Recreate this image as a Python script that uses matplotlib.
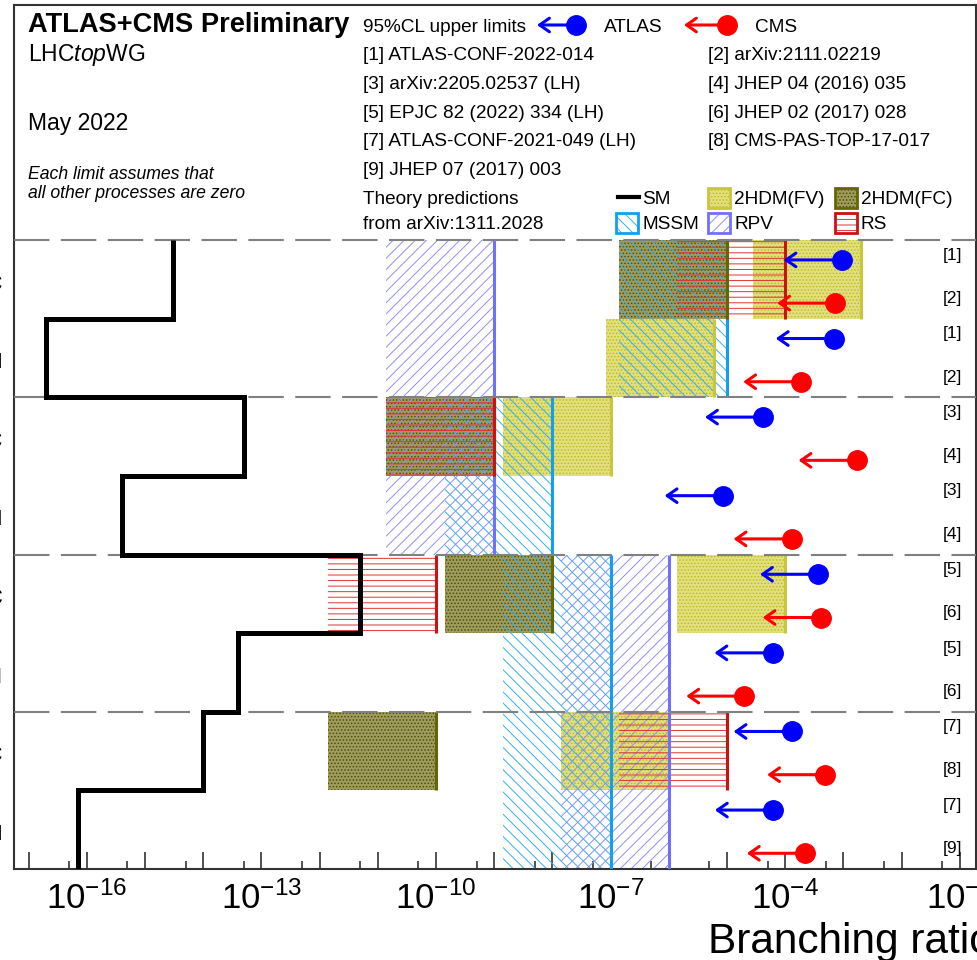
import numpy as np
import matplotlib
matplotlib.use('Agg')
import matplotlib.pyplot as plt
import matplotlib.transforms as mtransforms
from matplotlib.patches import Rectangle
from matplotlib.lines import Line2D
from matplotlib.ticker import FixedLocator, FuncFormatter, NullFormatter

plt.rcParams['font.family'] = ['Liberation Sans', 'DejaVu Sans']
plt.rcParams['mathtext.fontset'] = 'custom'
plt.rcParams['mathtext.rm'] = 'Liberation Sans'
plt.rcParams['mathtext.it'] = 'Liberation Sans:italic'
plt.rcParams['mathtext.bf'] = 'Liberation Sans:bold'
plt.rcParams['hatch.linewidth'] = 0.7

# channels, bottom to top: each has a u row (lower) and a c row (upper)
channels = ['Z', 'g', 'γ', 'H']

# SM predictions
sm_u = [7e-17, 4e-14, 4e-16, 2e-17]
sm_c = [1e-14, 5e-12, 5e-14, 3e-15]

# BSM predictions (arXiv:1311.2028), nan = not shown
fv_u = [np.nan, np.nan, np.nan, 6e-6]
fv_c = [1e-6, 1e-4, 1e-7, 2e-3]
fc_c = [1e-10, 1e-8, 1e-9, 1e-5]
mssm_uc = [1e-7, 1e-7, 1e-8, 1e-5]
rpv_uc = [1e-6, 1e-6, 1e-9, 1e-9]
rs_c = [1e-5, 1e-10, 1e-9, 1e-4]

# 95% CL upper limits
atlas_u = [6.2e-5, 6.1e-5, 8.5e-6, 6.9e-4]
atlas_c = [1.3e-4, 3.7e-4, 4.2e-5, 9.4e-4]
cms_u = [2.2e-4, 2.0e-5, 1.3e-4, 1.9e-4]
cms_c = [4.9e-4, 4.1e-4, 1.7e-3, 7.3e-4]
atlas_ref = ['[7]', '[5]', '[3]', '[1]']
cms_ref_u = ['[9]', '[6]', '[4]', '[2]']
cms_ref_c = ['[8]', '[6]', '[4]', '[2]']

references = ['[1] ATLAS-CONF-2022-014', '[2] arXiv:2111.02219',
              '[3] arXiv:2205.02537 (LH)', '[4] JHEP 04 (2016) 035',
              '[5] EPJC 82 (2022) 334 (LH)', '[6] JHEP 02 (2017) 028',
              '[7] ATLAS-CONF-2021-049 (LH)', '[8] CMS-PAS-TOP-17-017',
              '[9] JHEP 07 (2017) 003']

C_ATLAS, C_CMS = '#0000ff', '#ff0000'
styles = {
    'FV': dict(face='#e2e07e', hatch='.....', hc='#bdbb22', line='#c8c63a'),
    'FC': dict(face='#9e9c5e', hatch='.....', hc='#4f4e00', line='#666600'),
    'MSSM': dict(face='none', hatch='\\\\\\', hc='#35aef0', line='#11a0ee'),
    'RPV': dict(face='none', hatch='///', hc='#8f8ff5', line='#7070ff'),
    'RS': dict(face='none', hatch='---', hc='#dd3333', line='#cc1111'),
}
BOX_DEC = 1.85

W, H = 977, 960
fig = plt.figure(figsize=(W / 100, H / 100), dpi=100)
ax = fig.add_axes([14 / W, 1 - 869 / H, (976 - 14) / W, (869 - 4.5) / H])
ax.set_xscale('log')


def box(val, y0, y1, st, z):
    if np.isnan(val):
        return
    s = styles[st]
    lo = val / 10 ** BOX_DEC
    ax.add_patch(Rectangle((lo, y0), val - lo, y1 - y0, facecolor=s['face'],
                           edgecolor=s['hc'], hatch=s['hatch'], lw=0, zorder=z))


def edge(val, y0, y1, st, z):
    if np.isnan(val):
        return
    ax.vlines(val, y0, y1, color=styles[st]['line'], lw=2.2, zorder=z)


for i in range(4):
    u0, c0 = 2 * i, 2 * i + 1
    box(fv_u[i], u0, u0 + 1, 'FV', 1)
    box(fv_c[i], c0, c0 + 1, 'FV', 1)
    box(fc_c[i], c0, c0 + 1, 'FC', 1)
    box(mssm_uc[i], u0, c0 + 1, 'MSSM', 2)
    box(rpv_uc[i], u0, c0 + 1, 'RPV', 2)
    box(rs_c[i], c0, c0 + 1, 'RS', 3)
    edge(fv_u[i], u0, u0 + 1, 'FV', 4)
    edge(fv_c[i], c0, c0 + 1, 'FV', 4)
    edge(mssm_uc[i], u0, c0 + 1, 'MSSM', 5)
    edge(rpv_uc[i], u0, c0 + 1, 'RPV', 6)
    edge(fc_c[i], c0, c0 + 1, 'FC', 7)
    edge(rs_c[i], c0, c0 + 1, 'RS', 8)

# separators
for yy in [2, 4, 6, 8]:
    ax.axhline(yy, color='#808080', lw=1.5, ls=(0, (17, 5.5)), zorder=9)

# SM staircase
sm_rows = []
for i in range(4):
    sm_rows += [sm_u[i], sm_c[i]]
ax.stairs(sm_rows, np.arange(9), orientation='horizontal', baseline=None,
          color='black', lw=3.6, zorder=10)

# experimental limits
lab_tr = mtransforms.blended_transform_factory(ax.transAxes, ax.transData)


def limit(val, y, col, ref):
    ax.annotate('', xy=(val / 10, y), xytext=(val, y),
                arrowprops=dict(arrowstyle='->,head_length=0.5,head_width=0.35',
                                color=col, lw=2.2, shrinkA=0, shrinkB=0,
                                mutation_scale=14), zorder=11)
    ax.plot([val], [y], 'o', ms=14, color=col, zorder=12)
    ax.text(0.9854, y + 0.06, ref, transform=lab_tr, ha='right', va='center',
            fontsize=12.5, zorder=12)


for i in range(4):
    u0, c0 = 2 * i, 2 * i + 1
    limit(atlas_c[i], c0 + 0.75, C_ATLAS, atlas_ref[i])
    limit(cms_c[i], c0 + 0.2, C_CMS, cms_ref_c[i])
    limit(atlas_u[i], u0 + 0.75, C_ATLAS, atlas_ref[i])
    limit(cms_u[i], u0 + 0.2, C_CMS, cms_ref_u[i])

# axes styling
ax.set_xlim(10 ** -17.25, 10 ** -0.72)
ax.set_ylim(0, 11)
ax.xaxis.set_major_locator(FixedLocator(10.0 ** np.arange(-17, 0)))
ax.xaxis.set_minor_locator(FixedLocator(5 * 10.0 ** np.arange(-18, -1)))


def fmt(v, pos):
    n = int(round(np.log10(v)))
    return r'$\mathdefault{10^{%d}}$' % n if n % 3 == 2 else ''


ax.xaxis.set_major_formatter(FuncFormatter(fmt))
ax.xaxis.set_minor_formatter(NullFormatter())
ax.tick_params(axis='x', which='major', direction='in', length=12, width=1.1,
               labelsize=25, pad=9, color='#222222')
ax.tick_params(axis='x', which='minor', direction='in', length=6, width=1.1,
               color='#222222')
row_names = []
for ch in channels:
    row_names += ['t→%su' % ch, 't→%sc' % ch]
ax.set_yticks(np.arange(8) + 0.5)
ax.set_yticklabels(row_names)
ax.tick_params(axis='y', length=0, labelsize=20, pad=8)
for sp in ax.spines.values():
    sp.set_linewidth(1.5)
    sp.set_color('#333333')


def fpx(x, y):
    return x / W, 1 - y / H


def ftext(x, y, s, **kw):
    fig.text(*fpx(x, y), s, va='baseline', **kw)


# header
ftext(28, 32, 'ATLAS+CMS Preliminary', fontsize=19.6, fontweight='bold')
ftext(28, 61, r'LHC$\mathit{top}$WG', fontsize=16.5)
ftext(28, 130, 'May 2022', fontsize=16.5)
ftext(28, 179, 'Each limit assumes that', fontsize=12.7, style='italic')
ftext(28, 198, 'all other processes are zero', fontsize=12.7, style='italic')

ftext(363, 32, '95%CL upper limits', fontsize=13.7)
for k, ref in enumerate(references):
    xx = 363 if k % 2 == 0 else 708
    ftext(xx, 60 + 28.8 * (k // 2), ref, fontsize=13.7)
ftext(363, 204, 'Theory predictions', fontsize=13.7)
ftext(363, 229, 'from arXiv:1311.2028', fontsize=13.7)


def leg_limit(x_tip, x_mark, y, col):
    ax.annotate('', xy=fpx(x_tip, y), xytext=fpx(x_mark, y),
                xycoords='figure fraction', textcoords='figure fraction',
                arrowprops=dict(arrowstyle='->,head_length=0.5,head_width=0.35',
                                color=col, lw=2.2, shrinkA=0, shrinkB=0,
                                mutation_scale=14), annotation_clip=False)
    fig.add_artist(Line2D([x_mark / W], [1 - y / H], marker='o', ms=14,
                          color=col, transform=fig.transFigure))


leg_limit(537, 576, 25, C_ATLAS)
ftext(604, 32, 'ATLAS', fontsize=13.7)
leg_limit(684, 727, 25, C_CMS)
ftext(755, 32, 'CMS', fontsize=13.7)

fig.add_artist(Line2D([618 / W, 639 / W], [1 - 197 / H] * 2, color='black',
                      lw=3, transform=fig.transFigure))
ftext(642, 204, 'SM', fontsize=13.7)


def leg_box(x0, y0, st, label):
    s = styles[st]
    fig.add_artist(Rectangle(fpx(x0, y0 + 20), 22 / W, 20 / H,
                             facecolor=s['face'], hatch=s['hatch'],
                             edgecolor=s['hc'], lw=0, transform=fig.transFigure))
    fig.add_artist(Rectangle(fpx(x0, y0 + 20), 22 / W, 20 / H,
                             facecolor='none', edgecolor=s['line'], lw=2,
                             transform=fig.transFigure))
    ftext(x0 + 26, y0 + 16, label, fontsize=13.7)


leg_box(708, 188, 'FV', '2HDM(FV)')
leg_box(835, 188, 'FC', '2HDM(FC)')
leg_box(616, 213, 'MSSM', 'MSSM')
leg_box(708, 213, 'RPV', 'RPV')
leg_box(835, 213, 'RS', 'RS')

ftext(708, 953, 'Branching ratio', fontsize=30.5)

fig.savefig('out.png', dpi=100)
